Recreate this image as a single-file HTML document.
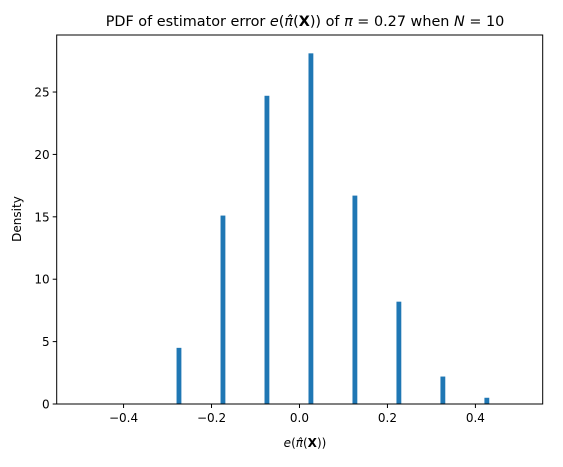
<!DOCTYPE html>
<html><head><meta charset="utf-8"><style>
body{margin:0;background:#fff}
svg text{font-family:"DejaVu Sans","Liberation Sans",sans-serif;fill:#000}
</style></head><body>
<svg id="chart" width="563" height="462" xmlns="http://www.w3.org/2000/svg">
<text x="305" y="26" font-size="14.4" text-anchor="middle">PDF of estimator error <tspan font-style="italic">e</tspan>(<tspan font-style="italic">π̂</tspan>(<tspan font-weight="bold">X</tspan>)) of <tspan font-style="italic">π</tspan> = 0.27 when <tspan font-style="italic">N</tspan> = 10</text>
<g id="bars"></g>
<g id="axes"></g>
<text x="305" y="447" font-size="12" text-anchor="middle"><tspan font-style="italic">e</tspan>(<tspan font-style="italic">π̂</tspan>(<tspan font-weight="bold">X</tspan>))</text>
<text transform="translate(21,219) rotate(-90)" font-size="12" text-anchor="middle">Density</text>
</svg>
<script>
const binCenters=[-0.274,-0.174,-0.074,0.026,0.126,0.226,0.326,0.426];
const densities=[4.5,15.1,24.7,28.1,16.7,8.2,2.2,0.5];
const xTicks=[-0.4,-0.2,0.0,0.2,0.4];
const xTickLabels=["−0.4","−0.2","0.0","0.2","0.4"];
const yTicks=[0,5,10,15,20,25];
const L=56.7,R=542.7,T=35,B=404,XMIN=-0.552,XMAX=0.553,YMAX=29.57;
const sx=v=>L+(v-XMIN)/(XMAX-XMIN)*(R-L);
const sy=v=>B-v/YMAX*(B-T);
const NS="http://www.w3.org/2000/svg";
const bars=document.getElementById('bars'),axes=document.getElementById('axes');
function mk(tag,attrs,parent){const e=document.createElementNS(NS,tag);for(const k in attrs)e.setAttribute(k,attrs[k]);parent.appendChild(e);return e;}
binCenters.forEach((c,i)=>{
 const x0=sx(c-0.0055),x1=sx(c+0.0055);
 const r=mk('rect',{x:x0,y:sy(densities[i]),width:x1-x0,height:B-sy(densities[i]),fill:'#1f77b4'},bars);
 
 
});
const frame=mk('rect',{x:L,y:T,width:R-L,height:B-T,fill:'none',stroke:'#000','stroke-width':1},axes);


xTicks.forEach((t,i)=>{
 const x=sx(t);
 mk('line',{x1:x,x2:x,y1:B,y2:B+4,stroke:'#000'},axes);
 const tx=mk('text',{x:x,y:B+18,'font-size':12,'text-anchor':'middle'},axes);
 tx.textContent=xTickLabels[i];
 
 
});
yTicks.forEach(t=>{
 const y=sy(t);
 mk('line',{x1:L-4,x2:L,y1:y,y2:y,stroke:'#000'},axes);
 const tx=mk('text',{x:L-7,y:y+4.5,'font-size':12,'text-anchor':'end'},axes);
 tx.textContent=String(t);
 
 
});
</script>
</body></html>
